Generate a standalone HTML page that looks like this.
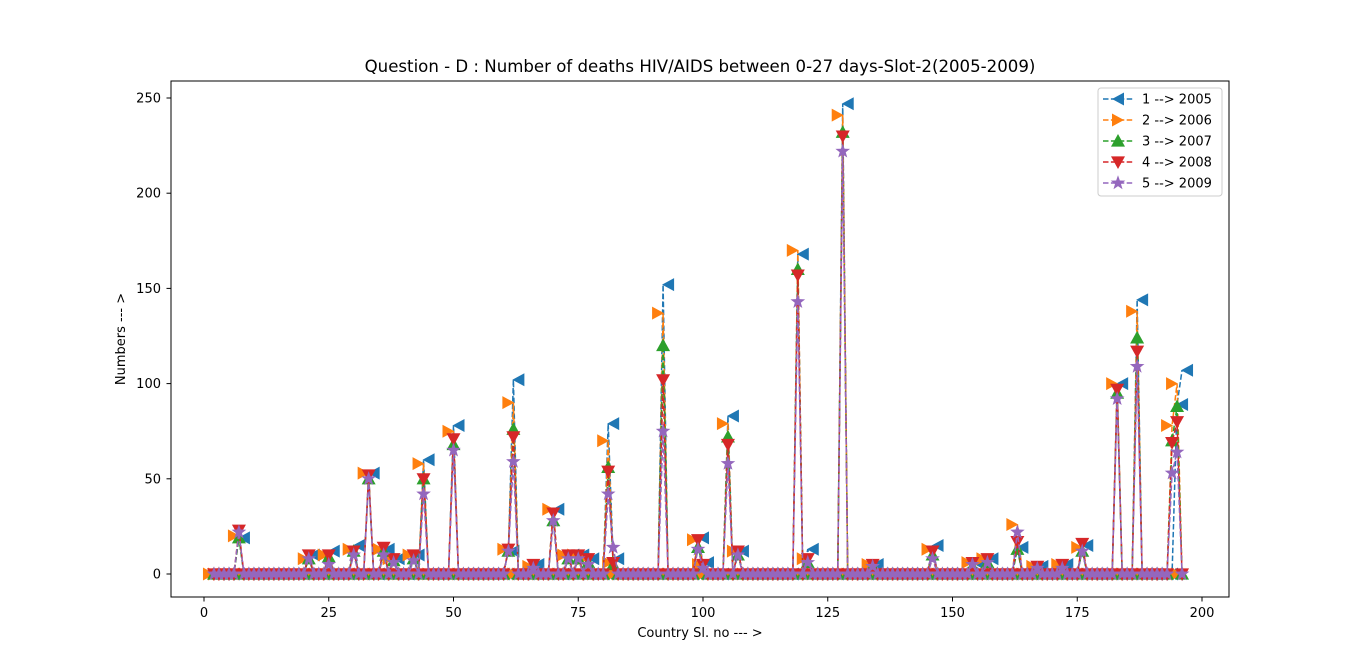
<!DOCTYPE html>
<html><head><meta charset="utf-8"><style>
html,body{margin:0;padding:0;background:#fff;}
svg{display:block;font-family:"DejaVu Sans","Liberation Sans",sans-serif;}
</style></head><body>
<svg id="chart" width="1366" height="671" viewBox="0 0 1366 671" xmlns="http://www.w3.org/2000/svg">
<rect x="0" y="0" width="1366" height="671" fill="#fff"/>
<text x="700" y="72" text-anchor="middle" font-size="16.6" fill="#000">Question - D : Number of deaths HIV/AIDS between 0-27 days-Slot-2(2005-2009)</text>
<text x="700" y="637" text-anchor="middle" font-size="13">Country Sl. no --- &gt;</text>
<text transform="translate(125,339) rotate(-90)" text-anchor="middle" font-size="13">Numbers --- &gt;</text>
<g id="plot"></g>
<rect x="171" y="81" width="1058" height="516" fill="none" stroke="#000" stroke-width="1"/>
<g id="axes"></g>
<g id="legend"></g>
</svg>
<script>
const countries = [];
for (let i = 2; i <= 196; i++) countries.push(i);
const peakIdx = [7,21,25,30,33,36,38,42,44,50,61,62,66,70,73,75,77,81,82,92,99,100,105,107,119,121,128,134,146,154,157,163,167,172,176,183,187,194,195,196];
const v2005 = [19,10,12,15,53,13,8,10,60,78,12,102,5,34,10,10,8,79,8,152,19,6,83,12,168,13,247,5,15,6,8,14,4,5,15,100,144,0,89,107];
const v2006 = [20,8,10,13,53,13,8,10,58,75,13,90,4,34,10,10,8,70,6,137,18,5,79,12,170,8,241,5,13,6,8,26,4,5,14,100,138,78,100,0];
const v2007 = [19,8,9,12,50,12,7,8,50,68,12,76,4,28,8,8,6,56,5,120,14,4,72,10,160,6,232,4,10,4,6,13,3,4,12,95,124,70,88,0];
const v2008 = [23,10,10,12,52,14,8,10,50,71,13,72,5,32,10,10,8,54,6,102,18,5,68,12,157,8,230,5,12,6,8,17,4,5,16,97,117,69,80,0];
const v2009 = [22,8,5,10,50,10,6,7,42,65,12,59,3,28,8,8,5,42,14,75,13,3,58,10,143,6,222,4,8,5,6,22,3,3,12,92,109,53,64,0];
const years = ["1 --> 2005","2 --> 2006","3 --> 2007","4 --> 2008","5 --> 2009"];
const xTicks = [0,25,50,75,100,125,150,175,200];
const yTicks = [0,50,100,150,200,250];

const colors = ["#1f77b4","#ff7f0e","#2ca02c","#d62728","#9467bd"];
const markers = ["<",">","^","v","*"];
const X = v => 204 + (v - 0) * (1202 - 204) / 200;
const Y = v => 574 - v * (574 - 98) / 250;
const NS = "http://www.w3.org/2000/svg";
function mk(tag, attrs, parent){const e=document.createElementNS(NS,tag);for(const k in attrs)e.setAttribute(k,attrs[k]);parent.appendChild(e);return e;}
function markerPath(m, cx, cy, r){
  if(m==="<") return `M${cx-1},${cy} L${cx+11},${cy-6.5} L${cx+11},${cy+6.5} Z`;
  if(m===">") return `M${cx+1},${cy} L${cx-11},${cy-6.5} L${cx-11},${cy+6.5} Z`;
  if(m==="^") return `M${cx},${cy-r} L${cx-r},${cy+r*0.8} L${cx+r},${cy+r*0.8} Z`;
  if(m==="v") return `M${cx},${cy+r} L${cx-r},${cy-r*0.8} L${cx+r},${cy-r*0.8} Z`;
  let d="";for(let k=0;k<10;k++){const a=-Math.PI/2+k*Math.PI/5;const rr=k%2?r*0.45:r*1.1;d+=(k?"L":"M")+(cx+rr*Math.cos(a)).toFixed(2)+","+(cy+rr*Math.sin(a)).toFixed(2);}return d+"Z";
}
const series = [v2005,v2006,v2007,v2008,v2009];
const plot = document.getElementById("plot");
series.forEach((vals, s) => {
  const g = mk("g", {}, plot);
  
  
  const full = countries.map(c => { const k = peakIdx.indexOf(c); return k >= 0 ? vals[k] : 0; });
  const pts = countries.map((c, i) => X(c).toFixed(2) + "," + Y(full[i]).toFixed(2)).join(" ");
  const line = mk("polyline", {points: pts, fill: "none", stroke: colors[s], "stroke-width": 1.5, "stroke-dasharray": "5.5,2.4"}, g);
  
  
  countries.forEach((c, i) => {
    const p = mk("path", {d: markerPath(markers[s], X(c), Y(full[i]), 7), fill: colors[s]}, g);
    
    
  });
});
const axes = document.getElementById("axes");
xTicks.forEach(t => {
  const l = mk("line", {x1: X(t), x2: X(t), y1: 597, y2: 601.5, stroke: "#000"}, axes);
  
  
  const tx = mk("text", {x: X(t), y: 617, "text-anchor": "middle", "font-size": 13}, axes);
  tx.textContent = t;
  
  
});
yTicks.forEach(t => {
  const l = mk("line", {x1: 166.5, x2: 171, y1: Y(t), y2: Y(t), stroke: "#000"}, axes);
  
  
  const tx = mk("text", {x: 161, y: Y(t) + 4.5, "text-anchor": "end", "font-size": 13}, axes);
  tx.textContent = t;
  
  
});
const lg = document.getElementById("legend");
const box = mk("rect", {x: 1098, y: 88, width: 124, height: 108, rx: 3, fill: "#fff", "fill-opacity": 0.8, stroke: "#ccc"}, lg);


years.forEach((y, s) => {
  const cy = 99 + s * 21;
  const g = mk("g", {}, lg);
  
  
  mk("line", {x1: 1103, x2: 1133, y1: cy, y2: cy, stroke: colors[s], "stroke-width": 1.5, "stroke-dasharray": "5.5,2.4"}, g);
  mk("path", {d: markerPath(markers[s], s===0?1113:(s===1?1123:1118), cy, 7), fill: colors[s]}, g);
  const t = mk("text", {x: 1142, y: cy + 4.5, "font-size": 13}, g);
  t.textContent = y;
});
</script>
</body></html>
